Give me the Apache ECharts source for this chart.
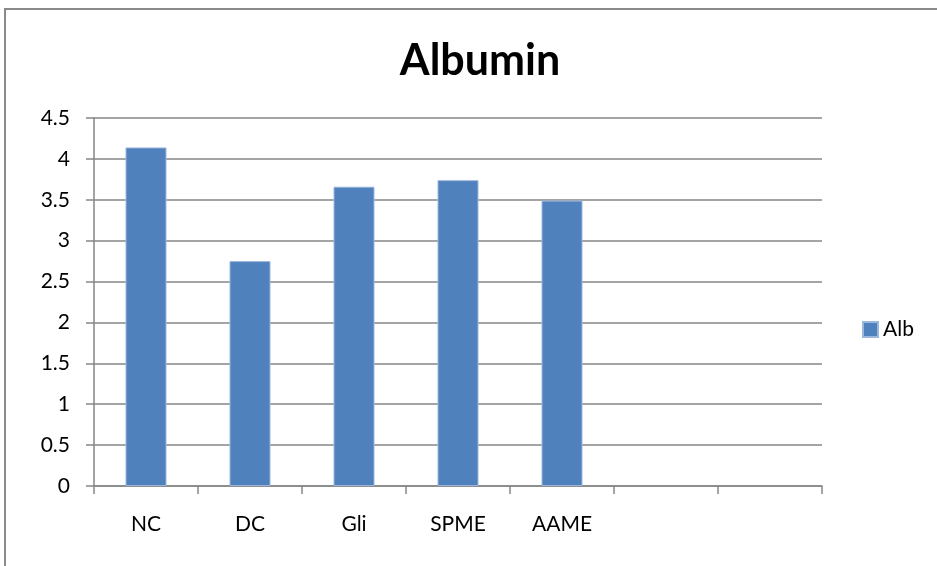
<!DOCTYPE html>
<html>
<head>
<meta charset="utf-8">
<script src="https://cdn.jsdelivr.net/npm/echarts@6/dist/echarts.min.js"></script>
<style>
  html, body { margin: 0; padding: 0; background: #ffffff; }
  #chart { width: 937px; height: 566px; }
</style>
</head>
<body>
<div id="chart"></div>
<script>
// Albumin levels per group; the last two category slots are empty
const categories = ['NC', 'DC', 'Gli', 'SPME', 'AAME', '', ''];
const albValues = [4.14, 2.75, 3.66, 3.74, 3.49, null, null];
const seriesName = 'Alb';
const titleText = 'Albumin';

const FONT = 'Lato, "Open Sans", sans-serif';
const GRID_GRAY = '#868686';

const chart = echarts.init(document.getElementById('chart'), null, { renderer: 'canvas' });

chart.setOption({
  backgroundColor: '#ffffff',
  animation: false,
  title: {
    text: titleText,
    left: 475,
    top: 35,
    textAlign: 'center',
    textStyle: { fontFamily: FONT, fontSize: 43, fontWeight: 'bold', color: '#000' }
  },
  legend: {
    data: [seriesName],
    left: 862,
    top: 319,
    padding: 0,
    itemWidth: 15,
    itemHeight: 15,
    itemGap: 6,
    icon: 'rect',
    textStyle: { fontFamily: FONT, fontSize: 21, color: '#000', padding: [0, 0, 0, 0] }
  },
  grid: { left: 94, right: 115, top: 118, bottom: 80, containLabel: false },
  xAxis: {
    type: 'category',
    data: categories,
    boundaryGap: true,
    axisLine: { show: true, lineStyle: { color: GRID_GRAY, width: 1.5 } },
    axisTick: { show: true, length: 8, lineStyle: { color: GRID_GRAY, width: 1.5 } },
    axisLabel: { margin: 28, fontFamily: FONT, fontSize: 21, color: '#000', interval: 0 },
    splitLine: { show: false }
  },
  yAxis: {
    type: 'value',
    min: 0,
    max: 4.5,
    interval: 0.5,
    axisLine: { show: true, lineStyle: { color: GRID_GRAY, width: 1.5 } },
    axisTick: { show: true, length: 8, lineStyle: { color: GRID_GRAY, width: 1.5 } },
    axisLabel: { margin: 24, fontFamily: FONT, fontSize: 21, color: '#000' },
    splitLine: { show: true, lineStyle: { color: GRID_GRAY, width: 1.5 } }
  },
  series: [{
    name: seriesName,
    type: 'bar',
    data: albValues,
    barWidth: 41,
    itemStyle: { color: '#4f81bd', borderColor: '#9bb7dd', borderWidth: 1 }
  }],
  graphic: [{
    type: 'rect',
    shape: { x: 5, y: 9, width: 1000, height: 1000 },
    style: { fill: 'none', stroke: '#8a8a8a', lineWidth: 2 },
    silent: true
  }]
});
</script>
</body>
</html>
